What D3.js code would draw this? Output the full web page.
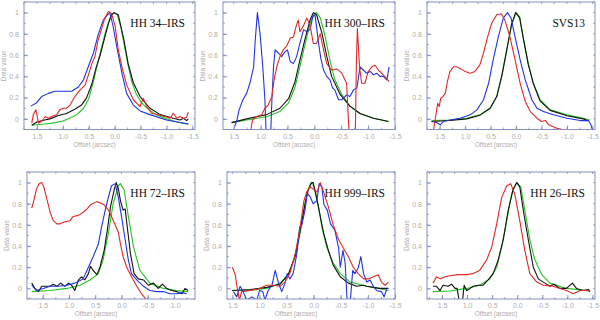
<!DOCTYPE html>
<html>
<head>
<meta charset="utf-8">
<script src="https://cdn.jsdelivr.net/npm/d3@7"></script>
<style>
  body { margin: 0; background: #fff; }
  svg { display: block; }
</style>
</head>
<body>
<svg id="chart"></svg>
<script>
// axis ticks
const offsetTicks = [1.5, 1.0, 0.5, 0.0, -0.5, -1.0, -1.5];
const valueTicks = [0, 0.2, 0.4, 0.6, 0.8, 1];

const panelNames = ['HH 34\u2013IRS', 'HH 300\u2013IRS', 'SVS13', 'HH 72\u2013IRS', 'HH 999\u2013IRS', 'HH 26\u2013IRS'];
const offsetRanges = [[1.75, -1.55], [1.7, -1.5], [1.75, -1.55], [1.8, -1.4], [1.6, -1.5], [1.8, -1.55]];
const valueRange = [-0.1, 1.1];

// HH 34-IRS
const hh34Green = [[1.6,-0.06],[1.4,-0.05],[1.2,-0.04],[1.0,-0.02],[0.85,0.01],[0.73,0.04],[0.6,0.1],[0.5,0.19],[0.41,0.35],[0.33,0.52],[0.25,0.68],[0.17,0.83],[0.09,0.95],[0.02,1.0],[-0.05,0.98],[-0.12,0.86],[-0.19,0.68],[-0.26,0.5],[-0.33,0.35],[-0.42,0.23],[-0.52,0.15],[-0.65,0.09],[-0.8,0.04],[-1.0,0.0],[-1.2,-0.03],[-1.42,-0.05]];
const hh34Black = [[1.6,-0.06],[1.5,-0.03],[1.35,-0.01],[1.25,0.0],[1.1,0.03],[0.93,0.05],[0.77,0.09],[0.64,0.13],[0.54,0.2],[0.44,0.33],[0.36,0.48],[0.28,0.6],[0.2,0.75],[0.12,0.9],[0.06,0.98],[0.01,1.0],[-0.07,0.98],[-0.18,0.74],[-0.26,0.52],[-0.36,0.34],[-0.49,0.21],[-0.68,0.1],[-0.88,0.04],[-1.13,0.006],[-1.26,-0.01],[-1.33,0.006],[-1.39,-0.016],[-1.42,0.0]];
const hh34Blue = [[1.62,0.12],[1.51,0.15],[1.41,0.21],[1.28,0.24],[1.15,0.26],[0.96,0.26],[0.83,0.26],[0.70,0.30],[0.60,0.37],[0.51,0.49],[0.41,0.62],[0.32,0.79],[0.22,0.93],[0.12,0.99],[0.09,0.99],[0.03,0.87],[-0.04,0.68],[-0.14,0.43],[-0.23,0.24],[-0.36,0.13],[-0.49,0.075],[-0.68,0.04],[-1.0,-0.01],[-1.26,-0.034],[-1.42,-0.047]];
const hh34Red = [[1.6,-0.04],[1.57,0.04],[1.52,0.085],[1.47,-0.04],[1.41,-0.025],[1.34,0.022],[1.28,0.006],[1.22,0.022],[1.12,0.038],[1.06,0.085],[0.99,0.10],[0.93,0.10],[0.86,0.13],[0.77,0.21],[0.67,0.27],[0.57,0.32],[0.51,0.41],[0.44,0.52],[0.38,0.59],[0.32,0.74],[0.25,0.85],[0.19,0.95],[0.12,1.01],[0.06,0.99],[-0.01,0.87],[-0.07,0.65],[-0.14,0.49],[-0.23,0.32],[-0.36,0.18],[-0.49,0.116],[-0.55,0.194],[-0.62,0.116],[-0.71,0.053],[-0.84,0.038],[-0.97,0.022],[-1.07,0.006],[-1.13,0.053],[-1.2,0.006],[-1.26,0.022],[-1.33,0.006],[-1.39,0.016],[-1.42,0.063]];

// HH 300-IRS
const hh300Green = [[1.54,-0.035],[1.26,-0.01],[0.89,0.02],[0.64,0.07],[0.48,0.15],[0.36,0.30],[0.27,0.49],[0.17,0.71],[0.08,0.90],[0.01,0.99],[-0.04,1.0],[-0.11,0.95],[-0.2,0.78],[-0.29,0.55],[-0.38,0.37],[-0.51,0.23],[-0.66,0.12],[-0.85,0.05],[-1.10,0.006],[-1.38,-0.025]];
const hh300Black = [[1.54,-0.035],[1.26,0.0],[0.89,0.04],[0.64,0.10],[0.48,0.19],[0.36,0.35],[0.27,0.55],[0.17,0.76],[0.08,0.93],[0.02,1.0],[-0.04,0.98],[-0.14,0.81],[-0.23,0.59],[-0.32,0.40],[-0.48,0.23],[-0.66,0.12],[-0.85,0.05],[-1.10,0.006],[-1.38,-0.025]];
const hh300Blue = [[1.48,-0.07],[1.44,-0.01],[1.40,0.085],[1.33,0.18],[1.26,0.24],[1.20,0.335],[1.13,0.49],[1.10,0.74],[1.06,1.0],[1.01,0.80],[0.96,0.49],[0.92,0.18],[0.90,-0.1],[0.89,-0.3],[0.82,-0.3],[0.81,-0.1],[0.79,0.18],[0.76,0.49],[0.73,0.65],[0.67,0.62],[0.61,0.586],[0.55,0.63],[0.50,0.65],[0.45,0.54],[0.39,0.52],[0.33,0.586],[0.27,0.71],[0.20,0.84],[0.14,0.82],[0.08,0.84],[0.03,0.96],[-0.01,0.98],[-0.04,0.87],[-0.07,0.74],[-0.12,0.57],[-0.17,0.46],[-0.23,0.40],[-0.29,0.367],[-0.34,0.29],[-0.38,0.273],[-0.45,0.18],[-0.51,0.18],[-0.60,0.226],[-0.66,0.21],[-0.73,0.273],[-0.79,0.29],[-0.85,0.49],[-0.91,0.46],[-0.97,0.43],[-1.04,0.446],[-1.10,0.414],[-1.16,0.43],[-1.22,0.40],[-1.28,0.40],[-1.35,0.367],[-1.39,0.49]];
const hh300Red = [[1.20,-0.15],[1.15,-0.01],[1.07,0.022],[0.98,0.038],[0.92,0.10],[0.86,0.13],[0.79,0.21],[0.75,0.367],[0.70,0.49],[0.64,0.586],[0.58,0.65],[0.51,0.69],[0.45,0.76],[0.39,0.77],[0.34,0.87],[0.30,0.93],[0.27,0.82],[0.20,0.88],[0.14,0.95],[0.08,0.88],[0.02,0.71],[-0.04,0.71],[-0.11,0.80],[-0.17,0.65],[-0.23,0.52],[-0.32,0.46],[-0.42,0.47],[-0.51,0.43],[-0.60,0.335],[-0.63,0.022],[-0.65,-0.2],[-0.76,-0.2],[-0.78,0.49],[-0.80,0.85],[-0.84,0.49],[-0.88,0.335],[-0.94,0.335],[-1.0,0.445],[-1.07,0.49],[-1.13,0.505],[-1.19,0.46],[-1.25,0.43],[-1.31,0.40],[-1.39,0.35]];

// SVS13
const svs13Green = [[1.66,-0.015],[1.30,-0.01],[0.97,0.006],[0.71,0.038],[0.51,0.10],[0.38,0.21],[0.28,0.40],[0.18,0.65],[0.09,0.88],[0.0,1.0],[-0.07,0.96],[-0.14,0.77],[-0.24,0.52],[-0.34,0.335],[-0.47,0.18],[-0.67,0.085],[-1.0,0.038],[-1.32,0.006],[-1.45,-0.01]];
const svs13Black = [[1.66,-0.025],[1.30,-0.015],[0.97,0.0],[0.71,0.035],[0.51,0.10],[0.38,0.21],[0.28,0.41],[0.18,0.66],[0.09,0.89],[0.01,1.0],[-0.07,0.95],[-0.14,0.76],[-0.24,0.51],[-0.34,0.33],[-0.47,0.17],[-0.67,0.08],[-1.0,0.03],[-1.32,0.0],[-1.42,-0.02]];
const svs13Blue = [[1.66,-0.025],[1.56,-0.034],[1.49,-0.056],[1.43,-0.025],[1.30,-0.01],[1.10,0.006],[0.90,0.038],[0.77,0.085],[0.64,0.18],[0.54,0.335],[0.45,0.555],[0.35,0.77],[0.25,0.95],[0.17,1.0],[0.10,0.95],[0.02,0.77],[-0.08,0.555],[-0.18,0.367],[-0.31,0.18],[-0.41,0.10],[-0.54,0.069],[-0.73,0.038],[-1.0,0.006],[-1.26,-0.016],[-1.42,-0.016],[-1.47,-0.056],[-1.51,-0.12]];
const svs13Red = [[1.62,-0.1],[1.57,0.053],[1.54,0.147],[1.51,0.116],[1.48,0.194],[1.44,0.21],[1.39,0.24],[1.35,0.35],[1.30,0.445],[1.23,0.49],[1.17,0.49],[1.10,0.475],[1.0,0.445],[0.90,0.43],[0.81,0.445],[0.71,0.51],[0.64,0.62],[0.56,0.77],[0.48,0.90],[0.38,0.98],[0.29,0.99],[0.22,0.93],[0.12,0.77],[0.02,0.555],[-0.08,0.335],[-0.18,0.163],[-0.28,0.069],[-0.41,0.006],[-0.50,-0.025],[-0.58,-0.016],[-0.64,-0.056],[-0.80,-0.088],[-1.0,-0.11]];

// HH 72-IRS
const hh72Green = [[1.71,-0.03],[1.36,-0.02],[1.04,0.0],[0.79,0.03],[0.60,0.08],[0.44,0.14],[0.35,0.27],[0.25,0.52],[0.16,0.80],[0.06,0.97],[0.02,0.99],[-0.05,0.93],[-0.13,0.68],[-0.23,0.39],[-0.35,0.17],[-0.54,0.05],[-0.80,0.0],[-1.05,-0.02],[-1.27,-0.03]];
const hh72Black = [[1.71,0.05],[1.65,0.0],[1.58,-0.03],[1.52,0.02],[1.46,0.02],[1.36,0.02],[1.30,0.04],[1.23,0.02],[1.16,0.05],[1.08,0.02],[1.01,0.05],[0.95,0.03],[0.89,-0.02],[0.82,0.08],[0.76,0.11],[0.70,0.08],[0.63,0.14],[0.59,0.21],[0.54,0.17],[0.47,0.13],[0.41,0.20],[0.33,0.36],[0.27,0.55],[0.21,0.77],[0.14,0.93],[0.10,1.0],[0.06,0.94],[0.02,0.83],[-0.03,0.74],[-0.07,0.75],[-0.11,0.58],[-0.17,0.33],[-0.24,0.14],[-0.32,0.09],[-0.42,0.08],[-0.51,0.03],[-0.61,0.05],[-0.70,0.0],[-0.78,0.04],[-0.86,0.0],[-0.96,-0.02],[-1.05,-0.03],[-1.15,-0.05],[-1.21,0.0],[-1.27,-0.02]];
const hh72Blue = [[1.71,0.03],[1.62,-0.02],[1.49,0.0],[1.36,0.02],[1.20,0.02],[1.04,0.03],[0.89,0.05],[0.73,0.09],[0.63,0.20],[0.54,0.30],[0.44,0.42],[0.38,0.58],[0.31,0.74],[0.25,0.86],[0.19,0.97],[0.12,0.99],[0.06,0.86],[0.0,0.68],[-0.07,0.46],[-0.13,0.27],[-0.19,0.14],[-0.29,0.08],[-0.42,0.02],[-0.54,-0.02],[-0.67,-0.03],[-0.80,-0.03],[-0.92,-0.05],[-1.05,-0.05],[-1.15,-0.04],[-1.24,-0.05]];
const hh72Red = [[1.71,0.76],[1.67,0.83],[1.62,0.94],[1.57,0.99],[1.52,1.0],[1.48,0.96],[1.43,0.86],[1.36,0.72],[1.30,0.64],[1.23,0.61],[1.17,0.61],[1.08,0.63],[0.98,0.64],[0.92,0.68],[0.82,0.69],[0.73,0.72],[0.66,0.75],[0.59,0.79],[0.47,0.82],[0.41,0.81],[0.33,0.79],[0.25,0.74],[0.19,0.68],[0.12,0.60],[0.06,0.53],[0.02,0.42],[-0.03,0.30],[-0.10,0.20],[-0.19,0.11],[-0.29,0.02],[-0.38,-0.05],[-0.48,-0.11]];

// HH 999-IRS
const hh999Green = [[1.51,-0.02],[1.17,-0.02],[0.87,0.0],[0.62,0.05],[0.47,0.13],[0.34,0.30],[0.25,0.52],[0.18,0.74],[0.12,0.91],[0.06,0.99],[0.02,0.99],[-0.02,0.94],[-0.09,0.77],[-0.15,0.58],[-0.24,0.39],[-0.36,0.24],[-0.49,0.14],[-0.67,0.06],[-0.98,0.02],[-1.38,-0.02]];
const hh999Black = [[1.51,-0.02],[1.17,-0.01],[0.87,0.01],[0.62,0.04],[0.47,0.13],[0.34,0.31],[0.25,0.55],[0.16,0.80],[0.10,0.93],[0.04,1.0],[0.01,1.0],[-0.02,0.93],[-0.09,0.76],[-0.18,0.53],[-0.27,0.36],[-0.36,0.22],[-0.49,0.11],[-0.64,0.05],[-0.79,0.02],[-0.92,0.03],[-0.98,0.02],[-1.10,0.01],[-1.22,0.0],[-1.38,0.0]];
const hh999Blue = [[1.48,-0.03],[1.42,-0.08],[1.36,0.02],[1.30,-0.03],[1.24,-0.11],[1.14,-0.08],[1.05,-0.11],[1.0,-0.02],[0.94,-0.03],[0.90,-0.11],[0.84,-0.02],[0.77,0.03],[0.71,0.17],[0.65,0.05],[0.59,-0.03],[0.53,0.05],[0.49,0.14],[0.44,0.09],[0.38,0.14],[0.31,0.33],[0.26,0.58],[0.22,0.60],[0.16,0.74],[0.12,0.90],[0.07,0.87],[0.01,0.80],[-0.06,0.83],[-0.10,0.99],[-0.15,0.96],[-0.19,0.79],[-0.25,0.74],[-0.31,0.61],[-0.39,0.55],[-0.46,0.38],[-0.49,0.20],[-0.54,0.36],[-0.58,0.24],[-0.62,-0.15],[-0.67,-0.15],[-0.72,0.17],[-0.76,0.14],[-0.82,0.19],[-0.87,0.30],[-0.92,0.14],[-0.98,0.06],[-1.04,0.08],[-1.10,0.02],[-1.16,-0.02],[-1.25,-0.03],[-1.30,-0.08],[-1.35,0.0]];
const hh999Red = [[1.50,0.2],[1.45,0.13],[1.41,0.0],[1.37,-0.11],[1.33,-0.03],[1.17,-0.02],[0.99,0.0],[0.87,0.03],[0.74,0.03],[0.62,0.02],[0.53,0.06],[0.44,0.14],[0.34,0.33],[0.25,0.58],[0.18,0.83],[0.13,0.91],[0.07,0.96],[0.01,0.94],[-0.06,0.91],[-0.12,1.0],[-0.19,0.90],[-0.27,0.77],[-0.36,0.60],[-0.46,0.46],[-0.55,0.38],[-0.64,0.30],[-0.73,0.20],[-0.82,0.14],[-0.92,0.09],[-1.01,0.09],[-1.10,0.11],[-1.19,0.13],[-1.25,0.06],[-1.32,0.03],[-1.38,0.06]];

// HH 26-IRS (no blue profile)
const hh26Green = [[1.68,-0.03],[1.34,-0.025],[1.01,0.0],[0.75,0.03],[0.55,0.09],[0.41,0.20],[0.31,0.39],[0.21,0.64],[0.11,0.90],[0.01,1.0],[-0.07,0.96],[-0.15,0.74],[-0.25,0.46],[-0.35,0.27],[-0.49,0.13],[-0.65,0.05],[-0.98,0.0],[-1.38,-0.02],[-1.45,-0.03]];
const hh26Black = [[1.68,0.02],[1.61,0.02],[1.54,-0.02],[1.48,0.03],[1.38,0.02],[1.31,0.04],[1.24,0.0],[1.20,0.0],[1.16,-0.11],[1.09,-0.11],[1.06,0.03],[1.01,-0.02],[0.94,0.0],[0.88,0.02],[0.78,0.03],[0.68,0.03],[0.58,0.08],[0.48,0.14],[0.38,0.27],[0.28,0.46],[0.18,0.74],[0.08,0.94],[0.01,1.0],[-0.05,0.96],[-0.13,0.71],[-0.22,0.46],[-0.32,0.20],[-0.42,0.09],[-0.55,0.05],[-0.65,0.02],[-0.73,0.04],[-0.85,0.0],[-0.98,0.0],[-1.10,0.05],[-1.18,0.0],[-1.32,-0.02],[-1.42,-0.01],[-1.45,-0.03]];
const hh26Red = [[1.68,0.05],[1.61,0.11],[1.54,0.09],[1.44,0.11],[1.34,0.12],[1.18,0.13],[1.01,0.13],[0.88,0.14],[0.75,0.17],[0.61,0.27],[0.51,0.39],[0.41,0.61],[0.31,0.86],[0.21,0.97],[0.13,0.99],[0.05,0.89],[-0.05,0.64],[-0.15,0.36],[-0.25,0.14],[-0.39,0.06],[-0.52,0.03],[-0.72,0.02],[-0.85,0.0],[-0.98,-0.02],[-1.12,-0.05],[-1.25,-0.02],[-1.35,-0.02],[-1.42,-0.02],[-1.45,-0.03]];

const green = '#22c422';
const black = '#111';
const blue = '#2233dd';
const red = '#e02828';

const panelSeries = [
    [[hh34Green, green], [hh34Black, black], [hh34Blue, blue], [hh34Red, red]],
    [[hh300Green, green], [hh300Black, black], [hh300Blue, blue], [hh300Red, red]],
    [[svs13Green, green], [svs13Black, black], [svs13Blue, blue], [svs13Red, red]],
    [[hh72Green, green], [hh72Black, black], [hh72Blue, blue], [hh72Red, red]],
    [[hh999Green, green], [hh999Black, black], [hh999Blue, blue], [hh999Red, red]],
    [[hh26Green, green], [hh26Black, black], [hh26Red, red]]
];

const width = 600;
const height = 320;

// frame boxes [left, right, top, bottom]
const frames = [
    [24, 195, 2, 129.5], [223, 395, 2, 129.5], [427, 595, 2, 129.5],
    [27, 195, 172, 299], [227, 395, 172, 299], [427, 595, 172, 299]
];

const svg = d3.select('#chart')
    .attr('width', width)
    .attr('height', height);

const frameColor = '#8590c2';
const textColor = '#adadad';
const sans = 'Liberation Sans, Arial, sans-serif';

panelNames.forEach((name, i) => {
    const [l, r, t, b] = frames[i];
    const x = d3.scaleLinear().domain(offsetRanges[i]).range([l, r]);
    const y = d3.scaleLinear().domain(valueRange).range([b, t]);
    const g = svg.append('g');

    g.append('clipPath').attr('id', 'clip' + i)
        .append('rect').attr('x', l).attr('y', t).attr('width', r - l).attr('height', b - t);

    // ticks inside the frame
    const inRange = v => v <= offsetRanges[i][0] && v >= offsetRanges[i][1];
    const xt = offsetTicks.filter(inRange);
    const xMinor = d3.range(-1.75, 1.8, 0.25).filter(inRange);
    const yMinor = d3.range(-0.1, 1.11, 0.1);

    const bottomAxis = d3.axisBottom(x).tickValues(xt).tickSize(-4)
        .tickFormat(d => d3.format('.1f')(d).replace('\u2212', '-'));
    g.append('g').attr('transform', `translate(0,${b})`).call(bottomAxis)
        .call(a => a.select('.domain').remove())
        .call(a => a.selectAll('line').attr('stroke', frameColor))
        .call(a => a.selectAll('text').attr('fill', textColor).attr('dy', '0.9em')
            .style('font-family', sans).style('font-size', '7px'));

    g.append('g').selectAll('line').data(xMinor).enter().append('line')
        .attr('x1', d => x(d)).attr('x2', d => x(d)).attr('y1', b).attr('y2', b - 2)
        .attr('stroke', frameColor).attr('stroke-width', 0.8);
    g.append('g').selectAll('line').data(xMinor).enter().append('line')
        .attr('x1', d => x(d)).attr('x2', d => x(d)).attr('y1', t).attr('y2', t + 2)
        .attr('stroke', frameColor).attr('stroke-width', 0.8);

    const leftAxis = d3.axisLeft(y).tickValues(valueTicks).tickSize(-4).tickPadding(5)
        .tickFormat(d => d3.format('~g')(d));
    g.append('g').attr('transform', `translate(${l},0)`).call(leftAxis)
        .call(a => a.select('.domain').remove())
        .call(a => a.selectAll('line').attr('stroke', frameColor))
        .call(a => a.selectAll('text').attr('fill', textColor)
            .style('font-family', sans).style('font-size', '7px'));

    g.append('g').selectAll('line').data(yMinor).enter().append('line')
        .attr('x1', l).attr('x2', l + 2).attr('y1', d => y(d)).attr('y2', d => y(d))
        .attr('stroke', frameColor).attr('stroke-width', 0.8);
    g.append('g').selectAll('line').data(yMinor).enter().append('line')
        .attr('x1', r).attr('x2', r - 2).attr('y1', d => y(d)).attr('y2', d => y(d))
        .attr('stroke', frameColor).attr('stroke-width', 0.8);

    // profiles
    const line = d3.line().x(d => x(d[0])).y(d => y(d[1]));
    g.append('g').attr('clip-path', `url(#clip${i})`)
        .selectAll('path').data(panelSeries[i]).enter().append('path')
        .attr('d', d => line(d[0]))
        .attr('fill', 'none')
        .attr('stroke', d => d[1])
        .attr('stroke-width', 1.1)
        .attr('stroke-linejoin', 'round');

    // frame
    g.append('rect').attr('x', l).attr('y', t).attr('width', r - l).attr('height', b - t)
        .attr('fill', 'none').attr('stroke', frameColor).attr('stroke-width', 1);

    // title
    g.append('text').attr('x', r - 10).attr('y', t + 25).attr('text-anchor', 'end')
        .style('font-family', 'Liberation Serif, Times New Roman, serif').style('font-size', '11.5px')
        .attr('fill', '#111').text(name);

    // axis titles
    g.append('text').attr('x', (l + r) / 2 - 15).attr('y', b + 17).attr('text-anchor', 'middle')
        .style('font-family', sans).style('font-size', '6.5px')
        .attr('fill', textColor).text('Offset (arcsec)');
    g.append('text').attr('transform', `translate(${l - 18},${(t + b) / 2}) rotate(-90)`)
        .attr('text-anchor', 'middle')
        .style('font-family', sans).style('font-size', '6.5px')
        .attr('fill', textColor).text('Data value');
});
</script>
</body>
</html>
